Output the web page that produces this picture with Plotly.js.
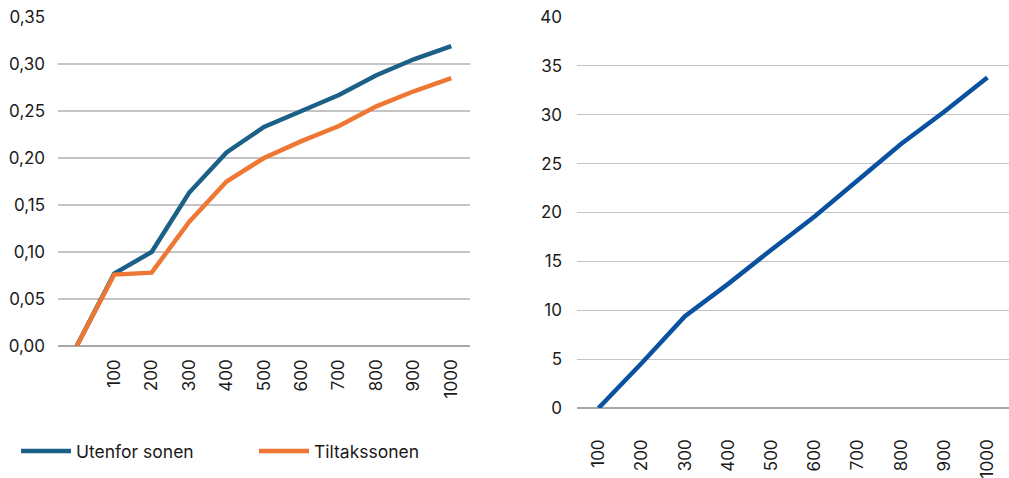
<!DOCTYPE html>
<html>
<head>
<meta charset="utf-8">
<script src="https://cdn.plot.ly/plotly-3.0.1.min.js"></script>
<style>html,body{margin:0;padding:0;background:#fff}#chart{width:1009px;height:478px}</style>
</head>
<body>
<div id="chart"></div>
<script>
// Left chart categories (first category has an empty label)
var leftCategories = ["", "100", "200", "300", "400", "500", "600", "700", "800", "900", "1000"];
var utenforSonen = [0, 0.077, 0.100, 0.163, 0.206, 0.233, 0.250, 0.267, 0.288, 0.305, 0.319];
var tiltakssonen = [0, 0.076, 0.078, 0.132, 0.175, 0.200, 0.218, 0.234, 0.255, 0.271, 0.285];

// Right chart
var rightCategories = ["100", "200", "300", "400", "500", "600", "700", "800", "900", "1000"];
var rightValues = [0, 4.6, 9.4, 12.7, 16.2, 19.6, 23.3, 27.0, 30.3, 33.8];

var leftTickVals = [0, 0.05, 0.10, 0.15, 0.20, 0.25, 0.30, 0.35];
var rightTickVals = [0, 5, 10, 15, 20, 25, 30, 35, 40];

var FONT = "Inter, 'Open Sans', sans-serif";
var W = 1009, H = 478;

var traces = [
  {
    x: leftCategories.map(function(c, i){ return i; }),
    y: utenforSonen, type: "scatter", mode: "lines", name: "Utenfor sonen",
    line: {color: "#1b6087", width: 4.5}, xaxis: "x", yaxis: "y"
  },
  {
    x: leftCategories.map(function(c, i){ return i; }),
    y: tiltakssonen, type: "scatter", mode: "lines", name: "Tiltakssonen",
    line: {color: "#ee7733", width: 4.5}, xaxis: "x", yaxis: "y"
  },
  {
    x: rightCategories.map(function(c, i){ return i; }),
    y: rightValues, type: "scatter", mode: "lines", name: "Høyre",
    line: {color: "#0a52a0", width: 4.5}, xaxis: "x2", yaxis: "y2", showlegend: false
  }
];

var layout = {
  width: W, height: H,
  margin: {l: 0, r: 0, t: 0, b: 0},
  paper_bgcolor: "#fff", plot_bgcolor: "#fff",
  separators: ",.",
  font: {family: FONT, size: 17, color: "#1a1a1a"},
  showlegend: true,
  legend: {
    orientation: "h", x: 16 / W, y: 1 - 433 / H, xanchor: "left", yanchor: "top",
    font: {family: FONT, size: 17.5, color: "#1a1a1a"},
    itemwidth: 50,
    entrywidth: 173, entrywidthmode: "pixels", traceorder: "normal"
  },
  xaxis: {
    domain: [58 / W, 470 / W], range: [-0.5, 10.5],
    tickmode: "array", tickvals: leftCategories.map(function(c, i){ return i; }), ticktext: leftCategories,
    tickangle: -90, showgrid: false, zeroline: false, showline: false,
    ticks: "", ticklabelstandoff: 9, anchor: "y", fixedrange: true
  },
  yaxis: {
    domain: [1 - 346 / H, 1 - 17 / H], range: [0, 0.35],
    tickmode: "array", tickvals: leftTickVals, tickformat: ".2f",
    showgrid: true, gridcolor: "#c4c4c4", gridwidth: 1.2,
    zeroline: true, zerolinecolor: "#a8a8a8", zerolinewidth: 1.5,
    showline: false, ticks: "", ticklabelstandoff: 12, anchor: "x", fixedrange: true
  },
  xaxis2: {
    domain: [577 / W, 1], range: [-0.5, 9.5],
    tickmode: "array", tickvals: rightCategories.map(function(c, i){ return i; }), ticktext: rightCategories,
    tickangle: -90, showgrid: false, zeroline: false, showline: false,
    ticks: "", ticklabelstandoff: 27, anchor: "y2", fixedrange: true
  },
  yaxis2: {
    domain: [1 - 408 / H, 1 - 17 / H], range: [0, 40],
    tickmode: "array", tickvals: rightTickVals,
    showgrid: true, gridcolor: "#c4c4c4", gridwidth: 1.2,
    zeroline: true, zerolinecolor: "#a8a8a8", zerolinewidth: 1.5,
    showline: false, ticks: "", ticklabelstandoff: 14, anchor: "x2", fixedrange: true
  }
};

Plotly.newPlot("chart", traces, layout, {displayModeBar: false, staticPlot: true});
</script>
</body>
</html>
